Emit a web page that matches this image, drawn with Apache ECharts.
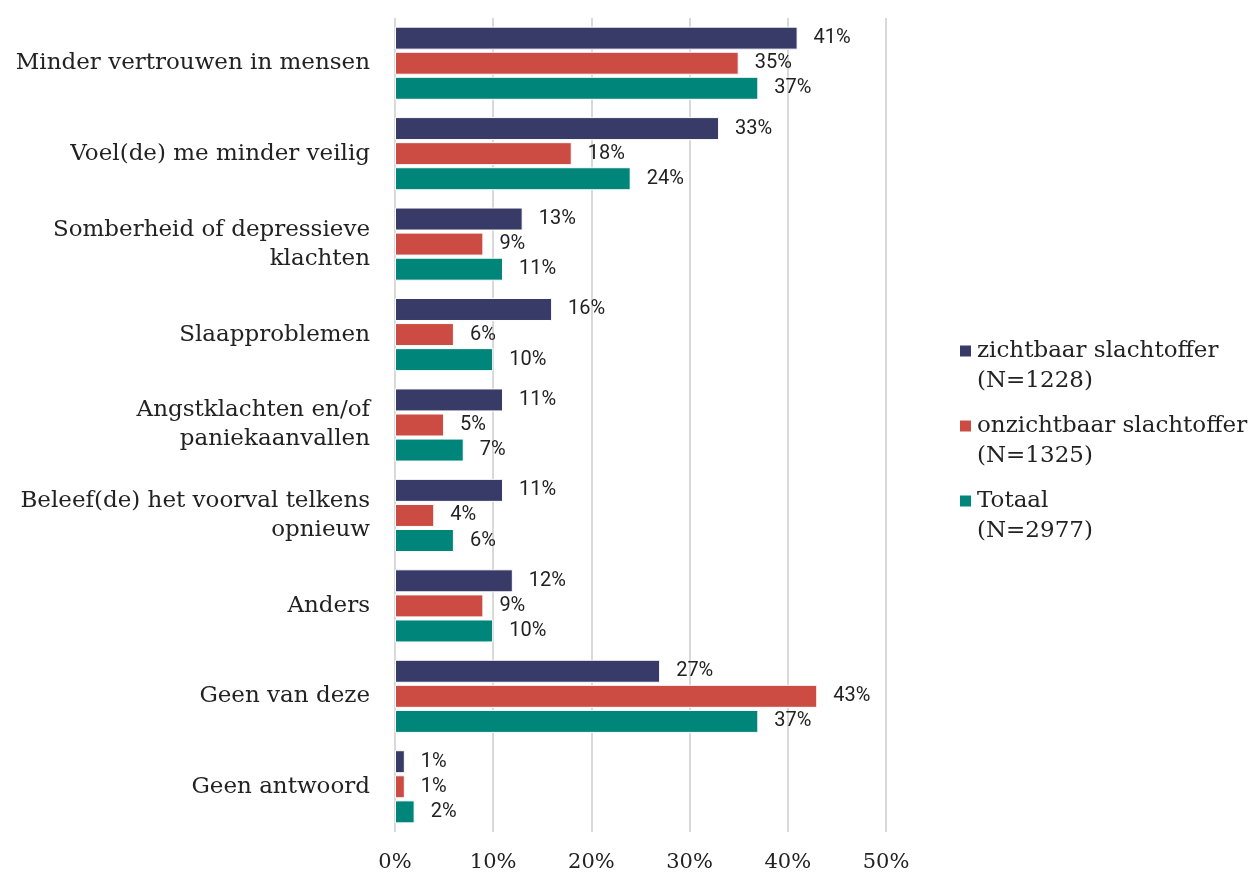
<!DOCTYPE html>
<html>
<head>
<meta charset="utf-8">
<script src="https://cdn.jsdelivr.net/npm/echarts@6/dist/echarts.min.js"></script>
<style>
  html, body { margin: 0; padding: 0; background: #fff; }
  #chart { width: 1256px; height: 874px; }
</style>
</head>
<body>
<div id="chart"></div>
<script>
// categorieën (van boven naar onder)
var categories = [
  'Minder vertrouwen in mensen',
  'Voel(de) me minder veilig',
  'Somberheid of depressieve\nklachten',
  'Slaapproblemen',
  'Angstklachten en/of\npaniekaanvallen',
  'Beleef(de) het voorval telkens\nopnieuw',
  'Anders',
  'Geen van deze',
  'Geen antwoord'
];
var seriesNames = [
  'zichtbaar slachtoffer\n(N=1228)',
  'onzichtbaar slachtoffer\n(N=1325)',
  'Totaal\n(N=2977)'
];
var zichtbaar = [41, 33, 13, 16, 11, 11, 12, 27, 1];
var onzichtbaar = [35, 18, 9, 6, 5, 4, 9, 43, 1];
var totaal = [37, 24, 11, 10, 7, 6, 10, 37, 2];
var xTicks = [0, 10, 20, 30, 40, 50];

var serif = '"DejaVu Serif", "Liberation Serif", serif';
var sans = 'Roboto, "Noto Sans", sans-serif';
var colors = ['#383a68', '#cc4c44', '#00857a'];

function makeSeries(name, data, color) {
  return {
    name: name,
    type: 'bar',
    data: data,
    barWidth: 23,
    barGap: '9%',
    itemStyle: { color: color, borderColor: '#fff', borderWidth: 1 },
    label: {
      show: true,
      position: 'right',
      distance: 16,
      formatter: '{c}%',
      fontFamily: sans,
      fontSize: 20,
      fontWeight: 'normal',
      color: '#222'
    }
  };
}

var myChart = echarts.init(document.getElementById('chart'));
var option = {
  animation: false,
  grid: { left: 395, top: 18, width: 491, bottom: 42, containLabel: false },
  legend: {
    orient: 'vertical',
    left: 958,
    top: 306,
    padding: 0,
    icon: 'rect',
    itemWidth: 13,
    itemHeight: 13,
    itemGap: -15,
    // lege eerste regel zodat het icoon bij de eerste tekstregel staat
    formatter: function (name) { return '\n' + name; },
    textStyle: {
      fontFamily: serif,
      fontSize: 23,
      color: '#222',
      lineHeight: 30
    },
    data: seriesNames
  },
  xAxis: {
    type: 'value',
    min: 0,
    max: 50,
    interval: 10,
    axisLabel: {
      formatter: function (v) { return xTicks.indexOf(v) >= 0 ? v + '%' : ''; },
      fontFamily: serif,
      fontSize: 21,
      color: '#222',
      margin: 20
    },
    axisLine: { show: false },
    axisTick: { show: false },
    splitLine: { lineStyle: { color: '#d9d9d9', width: 2 } }
  },
  yAxis: {
    type: 'category',
    inverse: true,
    data: categories,
    axisLine: { show: false },
    axisTick: { show: false },
    axisLabel: {
      fontFamily: serif,
      fontSize: 23,
      color: '#222',
      margin: 25,
      lineHeight: 29,
      align: 'right'
    }
  },
  series: [
    makeSeries(seriesNames[0], zichtbaar, colors[0]),
    makeSeries(seriesNames[1], onzichtbaar, colors[1]),
    makeSeries(seriesNames[2], totaal, colors[2])
  ]
};
option && myChart.setOption(option);
</script>
</body>
</html>
